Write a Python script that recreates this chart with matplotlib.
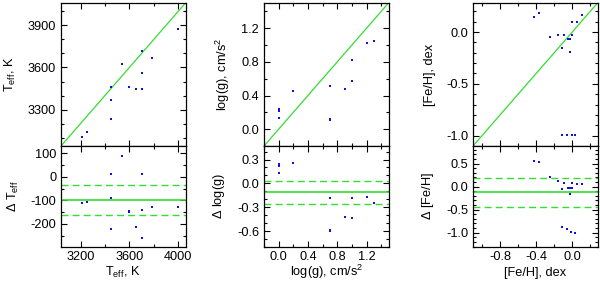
import matplotlib
matplotlib.use("Agg")
import matplotlib.pyplot as plt
from matplotlib.ticker import MultipleLocator

plt.rcParams['font.family'] = ['Liberation Sans', 'DejaVu Sans']
plt.rcParams['mathtext.default'] = 'regular'
plt.rcParams['font.size'] = 9.2

# Teff panel
teff_x = [3208, 3249, 3447, 3447, 3447, 3539, 3597, 3651, 3703, 3703, 3706, 3788, 4000]
teff_y = [3102, 3143, 3462, 3366, 3236, 3628, 3459, 3448, 3448, 3564, 3719, 3666, 3876]
dteff_x = [3208, 3249, 3447, 3447, 3447, 3539, 3597, 3597, 3651, 3703, 3703, 3703, 3788, 4000]
dteff_y = [-110, -108, 10, -88, -221, 88, -145, -150, -211, -140, 10, -260, -126, -129]
dteff_mean, dteff_lo, dteff_hi = -100, -163, -35

# log(g) panel
logg_x = [0.0, 0.0, 0.0, 0.2, 0.7, 0.7, 0.7, 0.9, 1.0, 1.0, 1.2, 1.3]
logg_y = [0.244, 0.215, 0.133, 0.452, 0.519, 0.118, 0.11, 0.48, 0.818, 0.57, 1.027, 1.047]
dlogg_x = [0.0, 0.0, 0.0, 0.2, 0.7, 0.7, 0.7, 0.9, 1.0, 1.0, 1.2, 1.3]
dlogg_y = [0.242, 0.221, 0.133, 0.259, -0.181, -0.59, -0.6, -0.427, -0.181, -0.44, -0.172, -0.247]
dlogg_mean, dlogg_lo, dlogg_hi = -0.113, -0.256, 0.033

# [Fe/H] panel
feh_x = [-0.419, -0.363, -0.252, -0.16, -0.111, -0.086, -0.048, -0.03, -0.03, 0.0, 0.0, 0.052, 0.107,
         -0.111, -0.063, 0.0, 0.026]
feh_y = [0.144, 0.182, -0.048, -0.026, -0.157, -0.026, -0.067, -0.067, -0.195, -0.026, 0.092, 0.092, 0.163,
         -0.993, -0.993, -0.993, -0.993]
dfeh_x = [-0.427, -0.363, -0.252, -0.16, -0.111, -0.086, -0.048, -0.03, -0.03, 0.0, 0.0, 0.052, 0.107,
          -0.111, -0.063, -0.011, 0.026]
dfeh_y = [0.565, 0.543, 0.204, 0.13, -0.043, 0.074, -0.035, -0.035, -0.159, -0.035, 0.087, 0.052, 0.052,
          -0.883, -0.926, -0.978, -1.013]
dfeh_mean, dfeh_lo, dfeh_hi = -0.125, -0.435, 0.18

panels = [
    dict(x=teff_x, y=teff_y, dx=dteff_x, dy=dteff_y, m=dteff_mean, lo=dteff_lo, hi=dteff_hi,
         lim=(3040, 4060), dlim=(-298, 131), xmaj=400, xmin=200, ymaj=300, ymin=100,
         dmaj=100, dmin=50, ylab=r'T$_{eff}$, K', dlab=r'$\Delta$ T$_{eff}$', xlab=r'T$_{eff}$, K',
         fmt='%d'),
    dict(x=logg_x, y=logg_y, dx=dlogg_x, dy=dlogg_y, m=dlogg_mean, lo=dlogg_lo, hi=dlogg_hi,
         lim=(-0.2, 1.5), dlim=(-0.8, 0.47), xmaj=0.4, xmin=0.2, ymaj=0.4, ymin=0.2,
         dmaj=0.3, dmin=0.1, ylab=r'log(g), cm/s$^2$', dlab=r'$\Delta$ log(g)', xlab=r'log(g), cm/s$^2$',
         fmt='%.1f'),
    dict(x=feh_x, y=feh_y, dx=dfeh_x, dy=dfeh_y, m=dfeh_mean, lo=dfeh_lo, hi=dfeh_hi,
         lim=(-1.1, 0.28), dlim=(-1.31, 0.88), xmaj=0.4, xmin=0.2, ymaj=0.5, ymin=0.1,
         dmaj=0.5, dmin=0.1, ylab='[Fe/H], dex', dlab=r'$\Delta$ [Fe/H]', xlab='[Fe/H], dex',
         fmt='%.1f'),
]

lefts = [61, 264, 473]
W, H = 600, 281
green = '#33dd33'
blue = '#1010e0'

fig = plt.figure(figsize=(6, 2.81), dpi=100)

for left, p in zip(lefts, panels):
    w = 124.5 / W
    ax = fig.add_axes([left / W, (H - 146) / H, w, 143 / H])
    bx = fig.add_axes([left / W, (H - 247) / H, w, 101 / H])

    ax.plot(p['lim'], p['lim'], color=green, lw=0.9)
    ax.plot(p['x'], p['y'], 's', color=blue, ms=2.0, mew=0)
    ax.set_xlim(p['lim'])
    ax.set_ylim(p['lim'])
    ax.set_ylabel(p['ylab'], labelpad=7)
    ax.tick_params(labelbottom=False)

    bx.axhline(p['m'], color=green, lw=1.2)
    bx.axhline(p['lo'], color=green, lw=1.0, ls=(0, (5, 3)))
    bx.axhline(p['hi'], color=green, lw=1.0, ls=(0, (5, 3)))
    bx.plot(p['dx'], p['dy'], 's', color=blue, ms=2.0, mew=0)
    bx.set_xlim(p['lim'])
    bx.set_ylim(p['dlim'])
    bx.set_ylabel(p['dlab'], labelpad=7)
    bx.set_xlabel(p['xlab'])
    bx.xaxis.set_label_coords(0.5, -0.285)
    bx.xaxis.label.set_verticalalignment('baseline')

    for a, ymaj, ymin in [(ax, p['ymaj'], p['ymin']), (bx, p['dmaj'], p['dmin'])]:
        a.xaxis.set_major_locator(MultipleLocator(p['xmaj']))
        a.xaxis.set_minor_locator(MultipleLocator(p['xmin']))
        a.yaxis.set_major_locator(MultipleLocator(ymaj))
        a.yaxis.set_minor_locator(MultipleLocator(ymin))
        a.tick_params(which='both', direction='in', top=True, right=True, width=0.8)
        a.tick_params(axis='x', pad=3)
        a.tick_params(axis='y', pad=3.5)
        a.tick_params(which='major', length=4)
        a.tick_params(which='minor', length=2)
        for s in a.spines.values():
            s.set_linewidth(0.9)
        a.yaxis.set_major_formatter(plt.FormatStrFormatter(p['fmt']))
    bx.xaxis.set_major_formatter(plt.FormatStrFormatter(p['fmt']))

fig.savefig('out.png', dpi=100)
